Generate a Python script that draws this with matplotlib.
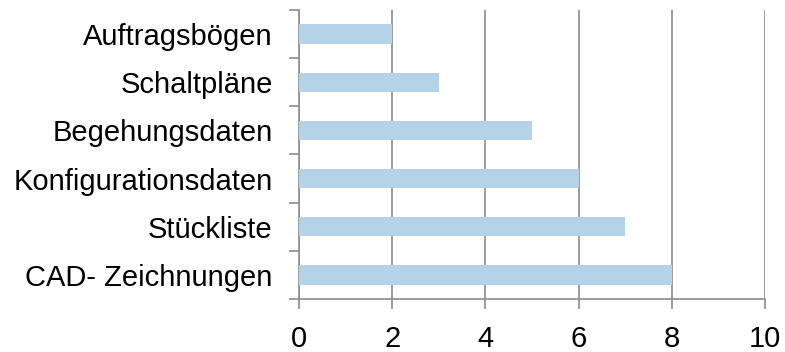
import matplotlib
matplotlib.use("Agg")
import matplotlib.pyplot as plt
from matplotlib import font_manager
import numpy as np

categories = ["CAD- Zeichnungen", "Stückliste", "Konfigurationsdaten",
              "Begehungsdaten", "Schaltpläne", "Auftragsbögen"]
values = [8, 7, 6, 5, 3, 2]
x_ticks = [0, 2, 4, 6, 8, 10]

# Prefer the regular-width Liberation Sans file over the Narrow variant
regular = [f for f in font_manager.fontManager.ttflist
           if f.name == "Liberation Sans" and "Narrow" not in f.fname
           and f.weight in (400, "normal") and f.style == "normal"]
if regular:
    fp = font_manager.FontProperties(fname=regular[0].fname)
else:
    fp = font_manager.FontProperties(family="DejaVu Sans")

grey = "#8c8c8c"
bar_color = "#b4d3e8"

fig = plt.figure(figsize=(7.85, 3.52), dpi=100)
ax = fig.add_axes([0.381, 0.1506, 0.5936, 0.821])

y = np.arange(len(categories))
ax.barh(y, values, height=0.4, color=bar_color, zorder=3)

ax.set_xlim(0, 10)
ax.set_ylim(-0.5, len(categories) - 0.5)
ax.set_xticks(x_ticks)
ax.set_xticklabels([str(t) for t in x_ticks], fontproperties=fp, fontsize=21)
ax.set_yticks(y)
ax.set_yticklabels(categories, fontproperties=fp, fontsize=21)
ax.set_yticks(np.arange(-0.5, len(categories)), minor=True)

ax.xaxis.grid(True, color=grey, linewidth=1.2, zorder=0)
ax.tick_params(axis="x", direction="out", length=7, width=1.2, color=grey, pad=11.5)
ax.tick_params(axis="y", which="major", length=0, pad=19)
ax.tick_params(axis="y", which="minor", direction="out", length=7, width=1.2, color=grey)

for side in ("top", "right"):
    ax.spines[side].set_visible(False)
for side in ("left", "bottom"):
    ax.spines[side].set_color(grey)
    ax.spines[side].set_linewidth(1.2)

fig.savefig("out.png", dpi=100)
